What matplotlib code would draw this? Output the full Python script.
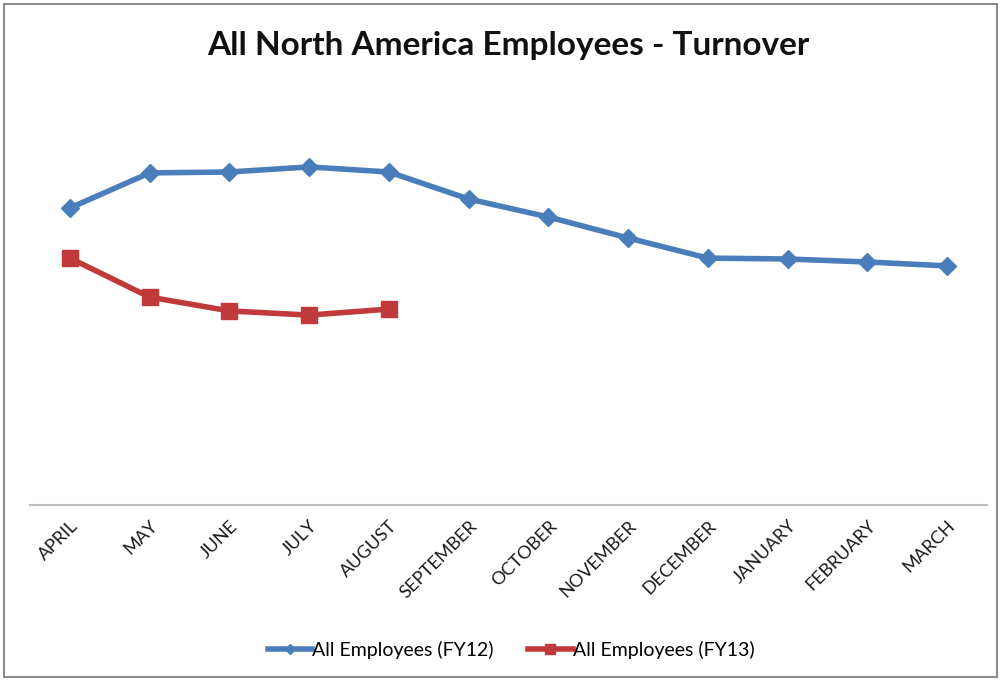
import matplotlib
matplotlib.use("Agg")
import matplotlib.pyplot as plt
from matplotlib.patches import Rectangle

months = ["APRIL", "MAY", "JUNE", "JULY", "AUGUST", "SEPTEMBER", "OCTOBER",
          "NOVEMBER", "DECEMBER", "JANUARY", "FEBRUARY", "MARCH"]
fy12 = [9.9, 11.07, 11.1, 11.27, 11.1, 10.2, 9.6, 8.9, 8.23, 8.2, 8.1, 7.97]
fy13 = [8.23, 6.93, 6.47, 6.33, 6.53]

blue = "#4A7EBB"
red = "#C0393B"

plt.rcParams["font.family"] = ["Lato", "DejaVu Sans"]

fig = plt.figure(figsize=(10, 6.8), dpi=100)
fig.patch.set_facecolor("white")
fig.add_artist(Rectangle((0.004, 0.004), 0.993, 0.99, transform=fig.transFigure,
                         fill=False, edgecolor="#8c8c8c", linewidth=1.5))

ax = fig.add_axes([0.030, 1 - 505 / 680, 0.957, (505 - 85) / 680])
x = list(range(len(months)))
ax.plot(x, fy12, color=blue, linewidth=4, marker="D", markersize=9,
        label="All Employees (FY12)", solid_joinstyle="round")
ax.plot(x[:len(fy13)], fy13, color=red, linewidth=4, marker="s", markersize=12,
        label="All Employees (FY13)", solid_joinstyle="round")

ax.set_xlim(-0.5, len(months) - 0.5)
ax.set_ylim(0, 14)
ax.set_yticks([])
for s in ["left", "right", "top"]:
    ax.spines[s].set_visible(False)
ax.spines["bottom"].set_color("#bfbfbf")
ax.spines["bottom"].set_linewidth(1.5)
ax.set_xticks(x)
ax.set_xticklabels(months, rotation=45, ha="right", va="top",
                   rotation_mode="anchor", fontsize=13, color="#1a1a1a")
ax.tick_params(axis="x", length=0, pad=9)

fig.text(0.508, 1 - 45 / 680, "All North America Employees - Turnover",
         ha="center", va="center", fontsize=24, fontweight="bold", color="#111111")

fig.legend(loc="center", bbox_to_anchor=(0.511, 1 - 650 / 680), ncol=2, frameon=False,
           fontsize=14, handlelength=2.3, handletextpad=0.0, columnspacing=1.75,
           markerscale=0.6)

fig.savefig("out.png", dpi=100, facecolor="white")
